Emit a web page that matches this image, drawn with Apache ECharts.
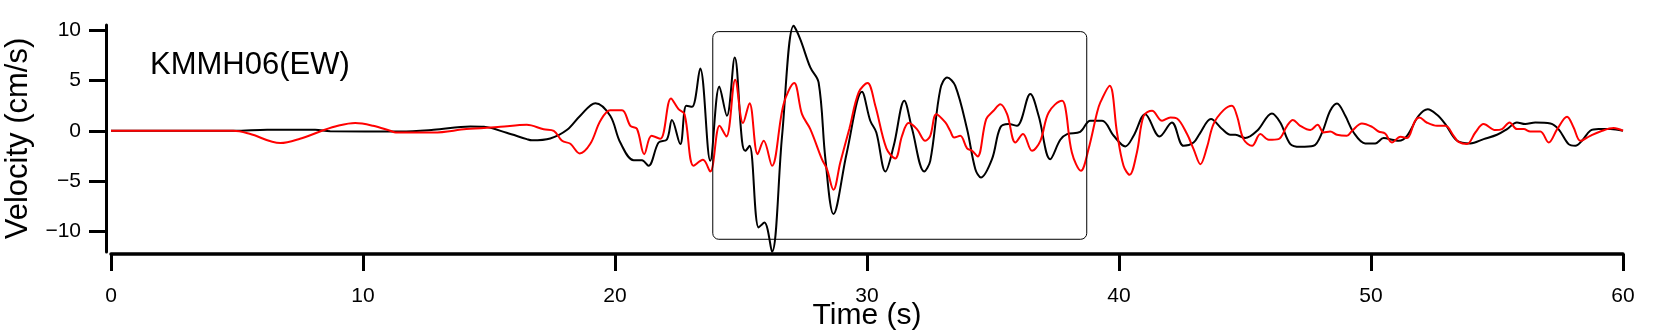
<!DOCTYPE html>
<html>
<head>
<meta charset="utf-8">
<script src="https://cdn.jsdelivr.net/npm/echarts@6/dist/echarts.min.js"></script>
<style>
  html, body { margin: 0; padding: 0; background: #fff; }
  #chart { width: 1672px; height: 333px; }
</style>
</head>
<body>
<div id="chart"></div>
<script>
// tick labels
var xTicks = [0, 10, 20, 30, 40, 50, 60];
var yTicks = [-10, -5, 0, 5, 10];

// black trace (time s, velocity cm/s)
var blackT = [0, 4.9, 6.2, 8.1, 8.7, 11.5, 12.8, 14.26, 14.8, 15.7, 16.5, 16.7, 17.43, 18.1, 18.62, 19.22, 19.81, 20.21, 20.74, 21.07,
  21.33, 21.73, 22.06, 22.26, 22.59, 22.83, 23.06, 23.38, 23.78, 24.14, 24.44, 24.75, 25.04, 25.17, 25.34, 25.7, 25.93, 26.23, 26.63, 27.09,
  27.35, 27.75, 28.08, 28.35, 28.67, 29.2, 29.8, 30.13, 30.37, 30.73, 31.06, 31.48, 31.79, 32.27, 32.51, 32.91, 33.18, 33.5, 33.97, 34.3,
  34.52, 34.96, 35.29, 35.62, 35.95, 36.48, 36.81, 37.27, 37.67, 37.94, 38.46, 38.86, 39.33, 39.79, 40.25, 40.58, 41.04, 41.61, 42.1, 42.56,
  42.96, 43.2, 43.65, 44.09, 44.42, 44.62, 45.01, 45.48, 46.07, 46.4, 46.8, 47.19, 47.72, 48.06, 48.38, 48.65, 48.98, 49.31, 49.77, 50.17,
  50.5, 50.9, 51.1, 51.43, 51.89, 52.25, 52.62, 52.95, 53.42, 53.94, 54.47, 55.0, 55.4, 55.79, 56.12, 56.52, 57.12, 57.44, 57.84, 58.11,
  58.37, 58.7, 59.03, 59.5, 60];
var blackV = [0, 0, 0.1, 0.1, -0.05, -0.07, 0.1, 0.43, 0.4, -0.2, -0.83, -0.95, -0.77, 0.1, 1.5, 2.76, 1.5, -1.17, -2.93, -2.93,
  -3.49, -1.17, -0.87, 1.07, -1.33, 2.5, 2.4, 6.22, -3.0, 4.42, 1.5, 7.32, -1.0, -2.0, -1.5, -9.65, -9.15, -12.08, -0.5, 10.48,
  9.15, 6.32, 4.82, -2.83, -8.31, -2.16, 3.89, 1.0, -0.17, -4.06, -1.5, 3.0, 0.17, -4.06, -3.0, 4.16, 5.32, 4.5, 0.17, -3.83,
  -4.66, -2.83, 0.33, 0.67, 0.5, 3.66, 1.5, -2.83, -0.9, -0.33, -0.1, 1.0, 1.0, -0.5, -1.56, -0.5, 1.66, -0.57, 0.83, -1.5,
  -1.17, -0.3, 1.17, 0.17, -0.4, -0.4, -0.73, 0, 1.73, 0.83, -1.33, -1.6, -1.5, -0.17, 2.0, 2.73, 1.5, -0.17, -1.26, -1.26,
  -0.73, -0.93, -1.0, -0.5, 1.5, 2.16, 1.6, 0.67, -1.0, -1.26, -0.83, -0.4, 0.17, 0.83, 0.67, 0.83, 0.73, 0.17, -1.33, -1.5,
  -1.0, 0, 0.17, 0.17, 0];

// red trace (time s, velocity cm/s)
var redT = [0, 4.85, 5.5, 6.72, 7.5, 8.37, 9.0, 9.69, 10.4, 11.08, 11.3, 12.8, 14.1, 15.45, 16.5, 17.17, 17.57, 17.9, 18.23, 18.6,
  19.02, 19.42, 19.81, 20.28, 20.61, 20.87, 21.16, 21.45, 21.8, 22.22, 22.52, 22.76, 23.12, 23.49, 23.78, 24.15, 24.42, 24.77, 25.08, 25.34,
  25.66, 25.9, 26.23, 26.69, 27.11, 27.42, 27.75, 28.21, 28.41, 28.67, 28.94, 29.3, 29.67, 30.02, 30.33, 30.77, 31.12, 31.39, 31.65, 31.98,
  32.31, 32.51, 32.75, 33.11, 33.3, 33.46, 33.7, 33.97, 34.17, 34.39, 34.73, 35.02, 35.29, 35.56, 35.89, 36.19, 36.55, 36.88, 37.21, 37.74,
  37.87, 38.13, 38.49, 38.79, 39.13, 39.26, 39.63, 39.92, 40.18, 40.42, 40.71, 40.98, 41.31, 41.71, 42.04, 42.3, 42.7, 42.96, 43.23, 43.49,
  43.75, 44.15, 44.48, 44.68, 44.94, 45.28, 45.61, 45.94, 46.33, 46.67, 46.9, 47.19, 47.59, 47.88, 48.12, 48.38, 48.65, 49.04, 49.25, 49.64,
  50.04, 50.3, 50.56, 50.83, 51.17, 51.43, 51.75, 51.92, 52.21, 52.62, 52.95, 53.28, 53.47, 53.81, 54.14, 54.47, 54.94, 55.2, 55.5, 55.79,
  56.06, 56.32, 56.72, 57.05, 57.39, 57.78, 58.04, 58.31, 58.7, 59.1, 59.63, 60];
var redV = [0, 0, -0.3, -1.23, -0.8, 0, 0.5, 0.77, 0.5, 0, -0.17, -0.17, 0.17, 0.4, 0.6, 0.15, 0, -1.0, -1.3, -2.26,
  -1.3, 1.0, 2.06, 2.06, 0.5, 0.2, -2.33, -0.5, -0.8, 3.23, 2.16, 1.66, -3.49, -2.9, -4.06, 0.5, -0.57, 5.09, 0.77, 2.76,
  -2.33, -1.0, -3.49, 2.66, 4.76, 1.66, 0.17, -2.83, -3.83, -5.89, -3.16, 0.2, 3.83, 4.76, 2.5, -1.76, -2.76, -0.5, 0.77, 0.17,
  -1.0, -0.5, 1.66, 0.83, 0, -0.67, -0.5, -1.76, -2.0, -2.56, 1.17, 2.0, 2.66, 1.66, -1.17, -0.33, -2.0, -1.0, 1.83, 3.0,
  2.33, -2.16, -3.99, -1.83, 1.83, 2.83, 4.49, -0.17, -3.49, -4.39, -2.16, 1.5, 2.0, 1.0, 1.33, 1.23, -0.33, -1.83, -3.33, -1.66,
  0.67, 2.06, 2.5, 1.5, -0.83, -1.5, -0.33, -0.9, -0.83, 0.5, 1.07, 0.5, 0.07, 0.6, -0.17, -0.07, -0.4, -0.5, 0, 0.73,
  0.4, -0.07, -0.27, -1.17, -0.6, -0.73, 1.0, 1.33, 0.83, 0.5, 0.5, -0.5, -1.1, -1.33, -0.17, 0.67, 0.07, 0.17, 0.83, 0.17,
  0.17, -0.07, -0.07, -1.17, 0.17, 1.4, 0.33, -1.0, -0.5, -0.07, 0.27, 0];

// highlighted window (time range, velocity range)
var boxT = [23.88, 38.72];
var boxV = [9.9, -10.83];

function zip(t, v) {
  return t.map(function (x, i) { return [x, v[i]]; });
}

var chart = echarts.init(document.getElementById('chart'));
var font = 'Liberation Sans, Arial, sans-serif';

chart.setOption({
  animation: false,
  backgroundColor: '#fff',
  title: {
    text: 'KMMH06(EW)',
    left: 145,
    top: 45,
    textStyle: { color: '#000', fontSize: 31, fontWeight: 'normal', fontFamily: font }
  },
  grid: { left: 111, right: 49, top: 25, bottom: 81, outerBoundsMode: 'none', containLabel: false },
  xAxis: {
    type: 'value',
    min: 0,
    max: 60,
    interval: 10,
    offset: 2,
    name: 'Time (s)',
    nameLocation: 'middle',
    nameGap: 47,
    nameMoveOverlap: false,
    nameTextStyle: { color: '#000', fontSize: 30, fontFamily: font },
    axisLine: { onZero: false, lineStyle: { color: '#000', width: 3.5 } },
    axisTick: { length: 17, customValues: xTicks, lineStyle: { color: '#000', width: 3 } },
    axisLabel: { color: '#000', fontSize: 21, fontFamily: font, margin: 32, customValues: xTicks },
    splitLine: { show: false }
  },
  yAxis: {
    type: 'value',
    min: -12.1,
    max: 10.56,
    offset: 5,
    name: 'Velocity (cm/s)',
    nameLocation: 'middle',
    nameGap: 72,
    nameTextStyle: { color: '#000', fontSize: 31, fontFamily: font },
    axisLine: { onZero: false, lineStyle: { color: '#000', width: 3 } },
    axisTick: { length: 17, customValues: yTicks, lineStyle: { color: '#000', width: 3 } },
    axisLabel: {
      color: '#000', fontSize: 21, fontFamily: font, margin: 25, customValues: yTicks,
      formatter: function (v) { return v < 0 ? '\u2212' + (-v) : String(v); }
    },
    splitLine: { show: false }
  },
  series: [
    {
      type: 'line',
      data: zip(blackT, blackV),
      showSymbol: false,
      smooth: 0.35,
      lineStyle: { color: '#000', width: 2 },
      z: 2
    },
    {
      type: 'line',
      data: zip(redT, redV),
      showSymbol: false,
      smooth: 0.35,
      lineStyle: { color: '#ff0000', width: 2 },
      z: 3
    }
  ]
});

// rounded box drawn through the axis scales
var p0 = chart.convertToPixel({ gridIndex: 0 }, [boxT[0], boxV[0]]);
var p1 = chart.convertToPixel({ gridIndex: 0 }, [boxT[1], boxV[1]]);
chart.setOption({
  graphic: [{
    type: 'rect',
    shape: { x: p0[0], y: p0[1], width: p1[0] - p0[0], height: p1[1] - p0[1], r: 6 },
    style: { fill: 'none', stroke: '#000', lineWidth: 1 },
    z: 10
  }]
});
</script>
</body>
</html>
